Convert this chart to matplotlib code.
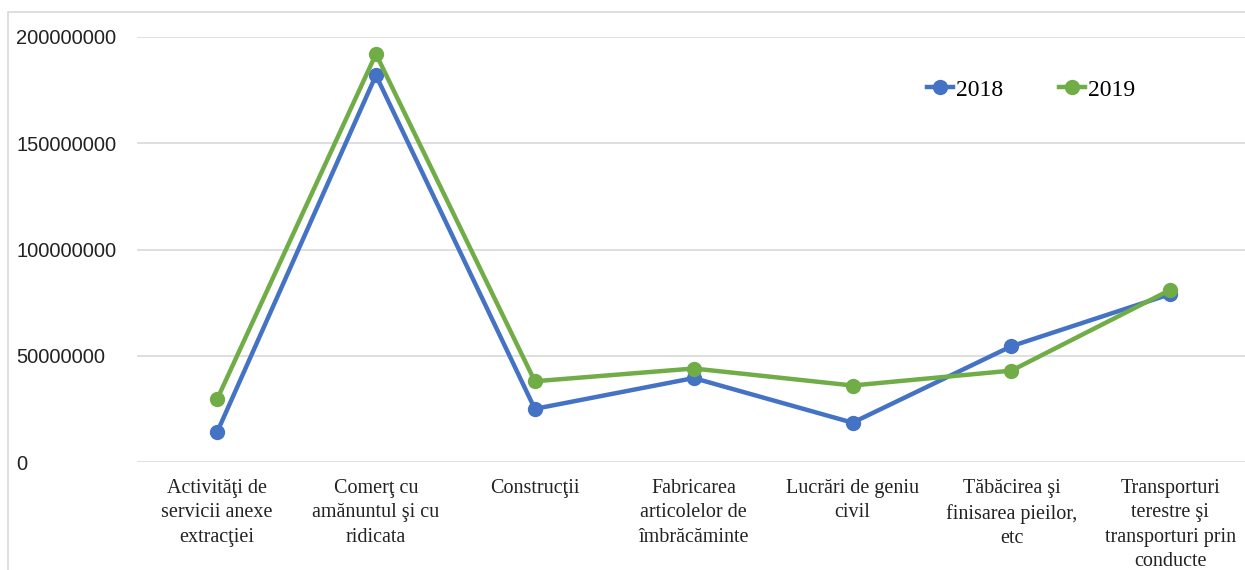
import matplotlib
matplotlib.use("Agg")
import matplotlib.pyplot as plt
from matplotlib.patches import Rectangle

categories = [
    "Activităţi de\nservicii anexe\nextracţiei",
    "Comerţ cu\namănuntul şi cu\nridicata",
    "Construcţii",
    "Fabricarea\narticolelor de\nîmbrăcăminte",
    "Lucrări de geniu\ncivil",
    "Tăbăcirea şi\nfinisarea pieilor,\netc",
    "Transporturi\nterestre şi\ntransporturi prin\nconducte",
]
values_2018 = [14000000, 182000000, 25000000, 39500000, 18500000, 54500000, 79000000]
values_2019 = [29500000, 192000000, 38000000, 44000000, 36000000, 43000000, 81000000]
yticks = [0, 50000000, 100000000, 150000000, 200000000]

fig = plt.figure(figsize=(12.45, 5.70), dpi=100)
ax = fig.add_axes([137 / 1245, 1 - 462 / 570, 1 - 137 / 1245, (462 - 37) / 570])

# light frame around the chart area
fig.patches.append(Rectangle((8 / 1245, -0.1), 1.2, 1 - 12 / 570 + 0.1,
                             transform=fig.transFigure, fill=False,
                             edgecolor="#d9d9d9", linewidth=1.2))

x = list(range(len(categories)))
ax.plot(x, values_2018, color="#4472C4", lw=3.2, marker="o", ms=10, label="2018")
ax.plot(x, values_2019, color="#70AD47", lw=3.2, marker="o", ms=10, label="2019")

ax.set_xlim(-0.504, 6.47)
ax.set_ylim(0, 200000000)
ax.set_yticks(yticks)
ax.set_yticklabels([str(v) for v in yticks], fontfamily="Liberation Sans", fontsize=14.5, color="#222222")
for lbl in ax.get_yticklabels():
    lbl.set_horizontalalignment("left")
ax.tick_params(axis="y", length=0, pad=87)

ax.set_xticks(x)
ax.set_xticklabels(categories, fontfamily="Liberation Serif", fontsize=14.5, linespacing=1.4,
                   va="top", color="#222222")
ax.tick_params(axis="x", length=0, pad=12)

ax.grid(axis="y", color="#d9d9d9", lw=1.2)
ax.set_axisbelow(True)
for s in ["top", "right", "left", "bottom"]:
    ax.spines[s].set_visible(False)

ax.legend(loc="center", bbox_to_anchor=(1031 / 1245, 1 - 90 / 570), bbox_transform=fig.transFigure,
          ncol=2, frameon=False, handlelength=1.1, columnspacing=2.4, handletextpad=0.1,
          prop={"family": "Liberation Serif", "size": 17})

fig.savefig("out.png", dpi=100)
